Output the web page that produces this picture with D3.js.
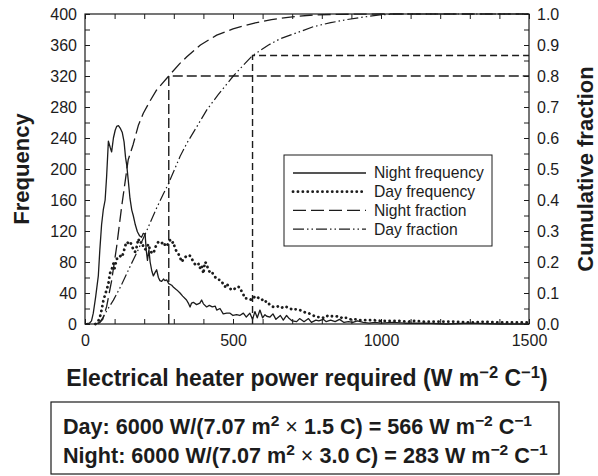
<!DOCTYPE html>
<html>
<head>
<meta charset="utf-8">
<script src="https://cdn.jsdelivr.net/npm/d3@7"></script>
<style>
  body { margin: 0; background: #fff; }
  svg { font-family: 'Liberation Sans', Arial, sans-serif; }
</style>
</head>
<body>
<svg width="598" height="476"></svg>
<script>
// Night frequency [W m-2 C-1, count]
var nightFreq = [
  [0,0],[15,1],[22,4],[28,14],[36,35],[45,62],[50,95],[56,128],[62,148],[68,160],
  [73,190],[79,236],[85,228],[90,222],[96,240],[102,250],[107,255],[113,256],[120,252],
  [126,247],[132,235],[137,215],[141,205],[146,186],[152,162],[158,147],[163,140],
  [170,128],[177,119],[184,114],[191,112],[197,117],[203,116],[207,95],[211,82],
  [216,96],[220,80],[226,68],[231,62],[236,66],[242,70],[248,60],[253,56],[259,55],
  [265,58],[270,56],[276,57],[283,52],[293,50],[300,47],[310,44],[321,40],[330,36],
  [343,31],[349,27],[355,22],[360,27],[366,28],[377,25],[388,27],[394,31],[400,26],
  [411,22],[420,24],[430,22],[440,23],[445,18],[456,20],[467,13],[479,14],[490,14],
  [500,11],[512,12],[523,11],[535,14],[545,9],[557,14],[566,6],[574,16],[582,8],
  [591,18],[600,8],[608,12],[614,10],[625,9],[635,13],[645,6],[660,11],[670,5],
  [681,11],[690,7],[700,4],[715,3],[725,7],[740,3],[755,7],[765,2],[780,5],[790,4],
  [805,6],[815,3],[830,5],[845,3],[860,6],[875,2],[890,3],[905,2],[920,4],[940,2],
  [960,1],[980,2],[1000,1],[1040,2],[1080,1],[1150,1],[1220,0],[1300,1],[1400,0],[1500,0]
];

// Day frequency [W m-2 C-1, count]
var dayFreq = [
  [35,0],[45,4],[50,8],[56,18],[62,30],[68,38],[73,44],[79,52],[84,65],[90,70],
  [96,78],[100,72],[107,84],[113,85],[118,88],[124,86],[130,92],[135,100],[141,106],
  [147,104],[152,106],[158,102],[163,96],[169,93],[175,100],[180,110],[186,104],
  [191,106],[197,100],[203,96],[208,98],[214,103],[220,95],[225,92],[231,91],[237,98],
  [242,103],[248,106],[253,106],[259,104],[265,106],[270,102],[276,100],[281,104],
  [287,108],[293,104],[298,106],[304,98],[310,93],[315,91],[321,86],[327,80],[333,84],
  [338,86],[344,88],[349,89],[355,88],[360,85],[366,80],[372,77],[377,76],[383,78],
  [388,72],[394,76],[400,65],[405,80],[411,78],[416,70],[422,67],[428,68],[433,64],
  [439,61],[445,58],[450,57],[456,57],[462,55],[467,51],[473,48],[479,52],[484,49],
  [490,46],[495,44],[501,44],[507,46],[512,48],[518,48],[524,47],[529,42],[535,38],
  [540,33],[546,33],[552,33],[557,32],[563,31],[568,34],[574,35],[580,36],[585,34],
  [591,32],[597,32],[602,30],[608,31],[614,27],[620,27],[625,24],[631,23],[636,22],
  [642,22],[648,22],[653,23],[659,22],[664,21],[670,22],[676,23],[681,22],[687,21],
  [693,20],[698,19],[704,18],[710,19],[715,19],[721,18],[726,18],[732,17],[738,16],
  [743,15],[749,14],[755,14],[760,13],[766,12],[771,11],[777,10],[783,10],[788,9],
  [794,9],[800,9],[805,8],[811,10],[817,10],[822,11],[828,10],[834,10],[839,10],
  [845,10],[850,10],[856,9],[862,9],[867,8],[873,9],[879,8],[884,8],[890,7],[896,6],
  [907,6],[918,6],[930,5],[950,5],[975,5],[1000,4],[1030,4],[1060,4],[1090,3],
  [1115,4],[1150,3],[1200,3],[1250,3],[1300,2],[1350,3],[1400,2],[1450,2],[1500,2]
];

// Cumulative fractions [W m-2 C-1, fraction]
var nightFrac = [
  [35,0],[50,0.005],[60,0.015],[73,0.056],[90,0.14],[107,0.25],[124,0.38],[146,0.53],
  [163,0.58],[180,0.64],[197,0.68],[220,0.72],[242,0.755],[283,0.8],[320,0.84],
  [344,0.862],[390,0.9],[445,0.932],[500,0.952],[569,0.97],[630,0.982],[693,0.99],
  [760,0.996],[850,0.999],[1000,1],[1500,1]
];
var dayFrac = [
  [45,0],[60,0.02],[75,0.045],[96,0.077],[120,0.12],[152,0.185],[180,0.24],[208,0.3],
  [240,0.37],[265,0.42],[283,0.455],[321,0.54],[344,0.583],[380,0.64],[411,0.69],
  [450,0.74],[501,0.8],[540,0.84],[566,0.866],[620,0.9],[659,0.92],[726,0.943],
  [771,0.959],[830,0.972],[884,0.982],[940,0.99],[996,0.997],[1050,1],[1500,1]
];

// design power and cumulative fraction it covers
var nightDesign = [283, 0.8];
var dayDesign = [566, 0.866];

var xTicks = [0, 500, 1000, 1500];
var yTicks = [0, 40, 80, 120, 160, 200, 240, 280, 320, 360, 400];
var y2Ticks = [0, 0.1, 0.2, 0.3, 0.4, 0.5, 0.6, 0.7, 0.8, 0.9, 1.0];

var legendLabels = ['Night frequency', 'Day frequency', 'Night fraction', 'Day fraction'];

var svg = d3.select('svg'),
  margin = { top: 14, right: 69, bottom: 152, left: 85 },
  width = +svg.attr('width') - margin.left - margin.right,
  height = +svg.attr('height') - margin.top - margin.bottom,
  g = svg.append('g').attr('transform', 'translate(' + margin.left + ',' + margin.top + ')');

var ink = '#1c1c1c';

var x = d3.scaleLinear().domain([0, 1500]).range([0, width]);
var y = d3.scaleLinear().domain([0, 400]).range([height, 0]);
var y2 = d3.scaleLinear().domain([0, 1]).range([height, 0]);

// minor ticks every 100 / 20 / 0.05
var xMinor = d3.range(0, 1501, 100);
var yMinor = d3.range(0, 401, 20);
var y2Minor = d3.range(0, 21).map(function(i) { return i * 0.05; });

function styleAxis(sel) {
  sel.select('.domain').remove();
  sel.selectAll('line').attr('stroke', ink).attr('stroke-width', 1);
  sel.selectAll('text').attr('fill', ink).style('font-size', '16px');
}

g.append('g')
  .attr('transform', 'translate(0,' + height + ')')
  .call(d3.axisBottom(x).tickValues(xMinor).tickSize(-5).tickPadding(11)
    .tickFormat(function(d) { return xTicks.indexOf(d) >= 0 ? d : ''; }))
  .call(styleAxis);
g.append('g')
  .call(d3.axisTop(x).tickValues(xMinor).tickSize(-5).tickFormat(''))
  .call(styleAxis);
g.append('g')
  .call(d3.axisLeft(y).tickValues(yMinor).tickSize(-5).tickPadding(8)
    .tickFormat(function(d) { return yTicks.indexOf(d) >= 0 ? d : ''; }))
  .call(styleAxis);
g.append('g')
  .attr('transform', 'translate(' + width + ',0)')
  .call(d3.axisRight(y2).tickValues(y2Minor).tickSize(-5).tickPadding(8)
    .tickFormat(function(d) {
      var r = Math.round(d * 10) / 10;
      return Math.abs(r - d) < 1e-6 ? d3.format('.1f')(d) : '';
    }))
  .call(styleAxis);

// frame
g.append('rect')
  .attr('width', width)
  .attr('height', height)
  .attr('fill', 'none')
  .attr('stroke', ink)
  .attr('stroke-width', 1.2);

var styles = [
  { dash: null, width: 1.3, cap: 'butt' },
  { dash: '0.1 4.8', width: 2.8, cap: 'round' },
  { dash: '13 5', width: 1.3, cap: 'butt' },
  { dash: '11 3 1.5 3 1.5 3', width: 1.2, cap: 'butt' }
];

var freqLine = d3.line()
  .x(function(d) { return x(d[0]); })
  .y(function(d) { return y(d[1]); });
var fracLine = d3.line()
  .x(function(d) { return x(d[0]); })
  .y(function(d) { return y2(d[1]); });

// design lines
[nightDesign, dayDesign].forEach(function(dl, i) {
  g.append('path')
    .attr('d', 'M' + x(dl[0]) + ',' + y2(0) + 'V' + y2(dl[1]) + 'H' + x(1500))
    .attr('fill', 'none')
    .attr('stroke', ink)
    .attr('stroke-width', 1.4)
    .attr('stroke-dasharray', i === 0 ? '10 4' : '7 4');
});

var series = [nightFreq, dayFreq, nightFrac, dayFrac];
series.forEach(function(s, i) {
  g.append('path')
    .datum(s)
    .attr('fill', 'none')
    .attr('stroke', ink)
    .attr('stroke-width', styles[i].width)
    .attr('stroke-linecap', styles[i].cap)
    .attr('stroke-linejoin', 'round')
    .attr('stroke-dasharray', styles[i].dash)
    .attr('d', i < 2 ? freqLine : fracLine);
});

// legend
var legend = svg.append('g').attr('transform', 'translate(284,155)');
legend.append('rect')
  .attr('width', 208).attr('height', 91)
  .attr('fill', '#fff').attr('stroke', ink).attr('stroke-width', 1);
legendLabels.forEach(function(lab, i) {
  var ly = 18 + i * 18.7;
  legend.append('line')
    .attr('x1', 9).attr('x2', 82).attr('y1', ly).attr('y2', ly)
    .attr('stroke', ink)
    .attr('stroke-width', styles[i].width)
    .attr('stroke-linecap', styles[i].cap)
    .attr('stroke-dasharray', styles[i].dash);
  legend.append('text')
    .attr('x', 90).attr('y', ly).attr('dy', '0.35em')
    .attr('fill', ink).style('font-size', '15.7px')
    .text(lab);
});

// axis titles
function unit(t) {
  t.append('tspan').text('W m');
  t.append('tspan').attr('dy', -8).style('font-size', '0.72em').text('\u22122');
  t.append('tspan').attr('dy', 8).text(' C');
  t.append('tspan').attr('dy', -8).style('font-size', '0.72em').text('\u22121');
  return t;
}

var xt = svg.append('text')
  .attr('x', 307).attr('y', 386)
  .attr('text-anchor', 'middle')
  .attr('fill', ink).style('font-size', '23px').style('font-weight', 'bold');
xt.append('tspan').text('Electrical heater power required (');
unit(xt);
xt.append('tspan').attr('dy', 8).text(')');

svg.append('text')
  .attr('transform', 'translate(28.5,' + (margin.top + height / 2) + ') rotate(-90)')
  .attr('text-anchor', 'middle')
  .attr('fill', ink).style('font-size', '22px').style('font-weight', 'bold')
  .text('Frequency');

svg.append('text')
  .attr('transform', 'translate(593,' + (margin.top + height / 2) + ') rotate(-90)')
  .attr('text-anchor', 'middle')
  .attr('fill', ink).style('font-size', '22px').style('font-weight', 'bold')
  .text('Cumulative fraction');

// calculation box
svg.append('rect')
  .attr('x', 51).attr('y', 402).attr('width', 508).attr('height', 72)
  .attr('fill', 'none').attr('stroke', ink).attr('stroke-width', 1.2);

var calcLines = [
  ['Day: 6000 W/(7.07 m', '1.5 C) = 566 '],
  ['Night: 6000 W/(7.07 m', '3.0 C) = 283 ']
];
calcLines.forEach(function(c, i) {
  var t = svg.append('text')
    .attr('x', 63).attr('y', 434 + i * 29)
    .attr('fill', ink).style('font-size', '21.6px').style('font-weight', 'bold');
  t.append('tspan').text(c[0]);
  t.append('tspan').attr('dy', -8).style('font-size', '0.72em').text('2');
  t.append('tspan').attr('dy', 8).style('font-weight', 'normal').text(' \u00d7 ');
  t.append('tspan').text(c[1]);
  unit(t);
});
</script>
</body>
</html>
